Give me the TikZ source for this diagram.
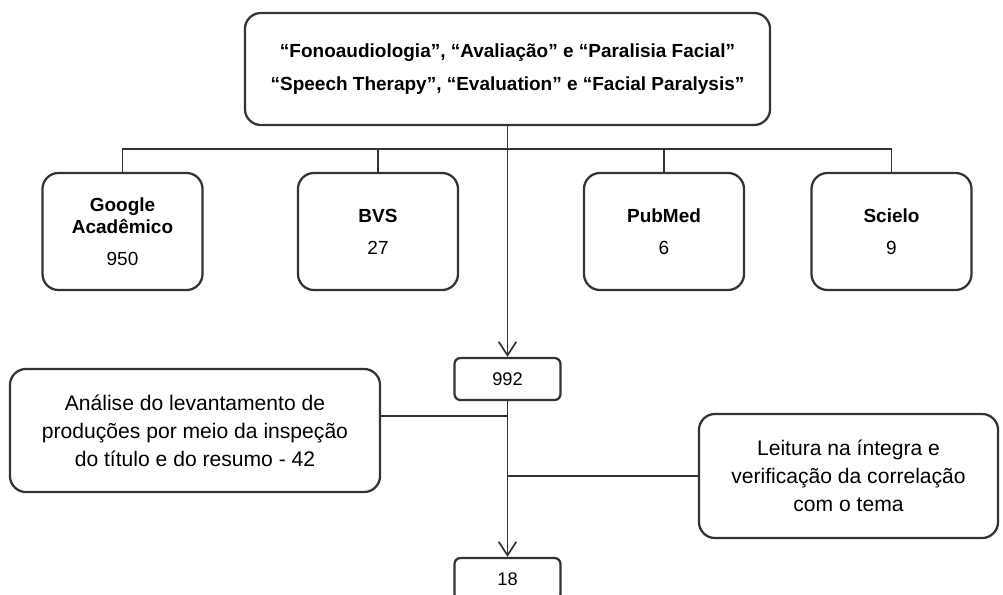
\documentclass[tikz,border=0pt]{standalone}
\usepackage{fontspec}
\setmainfont{Liberation Sans}
\usetikzlibrary{arrows.meta}
\tikzset{
  caixa/.style={draw=black!80, line width=1.6pt, rounded corners=4mm, align=center,
    inner sep=0pt},
  base/.style={caixa, minimum width=4cm, minimum height=2.925cm,
    font=\fontsize{13.5}{15.6}\selectfont},
  numero/.style={caixa, rounded corners=1.5mm, minimum width=2.65cm, minimum height=1.05cm,
    font=\fontsize{13}{16}\selectfont},
  etapa/.style={caixa, font=\fontsize{15}{20}\selectfont},
  liga/.style={draw=black!80, line width=1.3pt},
  seta/.style={liga, -{Straight Barb[length=3.4mm, width=4.4mm, line width=1.2pt]}}
}
\begin{document}
\begin{tikzpicture}[x=0.025cm, y=-0.025cm]
    \clip (0,0) rectangle (1003,594);
    \fill[white] (0,0) rectangle (1003,594);
    % descritores
    \node[caixa, minimum width=13.125cm, minimum height=2.8cm,
      font=\fontsize{13.5}{23}\selectfont\bfseries] (busca) at (507.5,69)
      {“Fonoaudiologia”, “Avaliação” e “Paralisia Facial”\\
       “Speech Therapy”, “Evaluation” e “Facial Paralysis”};
    % bases de dados
    \node[base] (google) at (122.5,231.5) {\textbf{Google}\\\textbf{Acadêmico}\\[7pt]950};
    \node[base] (bvs) at (378,231.5) {\textbf{BVS}\\[7pt]27};
    \node[base] (pubmed) at (664,231.5) {\textbf{PubMed}\\[7pt]6};
    \node[base] (scielo) at (891.5,231.5) {\textbf{Scielo}\\[7pt]9};
    % resultados
    \node[numero] (total) at (507.5,379) {992};
    \node[numero] (final) at (507.5,579) {18};
    \node[etapa, minimum width=9.25cm, minimum height=3.075cm] (analise) at (195,430.5)
      {Análise do levantamento de\\produções por meio da inspeção\\do título e do resumo - 42};
    \node[etapa, minimum width=7.475cm, minimum height=3.1cm] (leitura) at (848.5,476)
      {Leitura na íntegra e\\verificação da correlação\\com o tema};
    \coordinate (barra) at (507.5,149);
    \coordinate (ramo) at (507.5,416);
    \draw[liga] (google.north) |- (barra) -| (scielo.north);
    \draw[liga] (bvs.north) -- (bvs.north |- barra);
    \draw[liga] (pubmed.north) -- (pubmed.north |- barra);
    \draw[seta] (busca.south) -- (total.north);
    \draw[liga] (ramo -| analise.east) -- (ramo);
    \draw[liga] (leitura.west) -- (leitura.west -| total.south);
    \draw[seta] (total.south) -- (final.north);
\end{tikzpicture}
\end{document}
